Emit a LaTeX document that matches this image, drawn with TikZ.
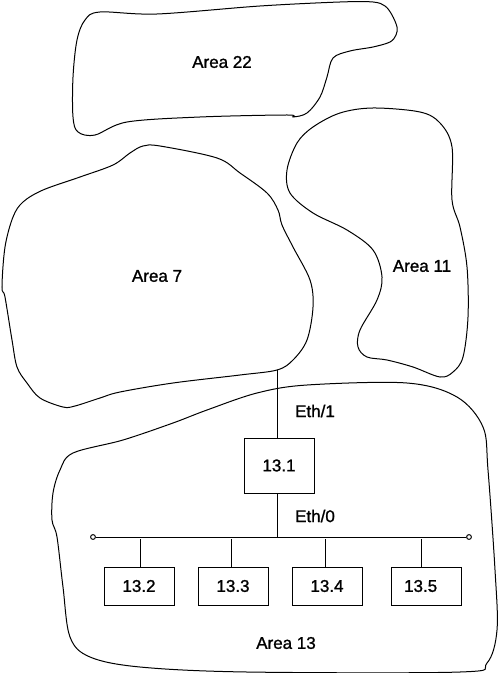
\documentclass[tikz,border=0pt]{standalone}
\usepackage{fontspec}
\setmainfont{Liberation Sans}
\newfontfamily\diagfont[FakeBold=1.2]{Liberation Sans}
\begin{document}
\begin{tikzpicture}[x=0.75pt,y=-0.75pt,line width=0.75pt,
  blob/.style={draw=black, line width=0.75pt},
  lbl/.style={font=\fontsize{12.75}{15}\diagfont, inner sep=0pt},
  bigbox/.style={draw, line width=0.75pt, minimum width=52.5pt, minimum height=41.25pt, inner sep=0pt, font=\fontsize{12.75}{15}\diagfont},
  smallbox/.style={draw, line width=0.75pt, minimum width=52.5pt, minimum height=28.5pt, inner sep=0pt, font=\fontsize{12.75}{15}\diagfont},
  term/.style={circle, draw, line width=0.75pt, inner sep=0pt, minimum size=3.6pt},
  wire/.style={draw, line width=0.75pt}]
\useasboundingbox (0,0) rectangle (500,673);
% Area 22
\draw[blob] plot[smooth cycle, tension=0.55] coordinates {(85,20) (100,12) (157,14) (260,6) (340,2) (373,2) (385,6) (392,15) (397,27) (396,35) (390,42) (373,47) (350,51) (333,58) (327,77) (320,97) (307,113) (293,117) (287,115) (200,117) (127,122) (95,135) (78,132) (73,117) (73,77) (77,40)};
% Area 7
\draw[blob] plot[smooth cycle, tension=0.55] coordinates {(113,165) (130,153) (143,146) (160,146) (217,158) (240,173) (267,193) (278,210) (282,225) (293,247) (310,280) (313,307) (307,340) (293,360) (277,370) (240,375) (173,383) (120,392) (100,398) (75,406) (63,407) (40,398) (27,383) (17,367) (12,340) (5,297) (2,287) (5,247) (13,217) (23,202) (43,190) (80,177)};
% Area 11
\draw[blob] plot[smooth cycle, tension=0.55] coordinates {(373,108) (420,112) (440,123) (452,147) (452,200) (460,227) (467,267) (468,317) (463,357) (453,372) (440,377) (413,367) (387,360) (367,357) (358,347) (360,330) (377,300) (382,277) (373,250) (347,230) (313,213) (290,193) (287,170) (297,143) (313,127) (340,113)};
% Area 13
\draw[blob] plot[smooth cycle, tension=0.55] coordinates {(307,385) (407,383) (457,397) (483,427) (488,470) (495,570) (497,630) (487,663) (460,672) (247,672) (140,667) (90,657) (70,637) (63,587) (57,537) (52,520) (53,493) (60,470) (73,453) (123,440) (173,423) (207,410) (257,393)};
% labels
\node[lbl] (a22) at (222,62) {Area 22};
\node[lbl] (a7) at (157,276) {Area 7};
\node[lbl] (a11) at (422,266) {Area 11};
\node[lbl] (a13) at (286,643) {Area 13};
\node[lbl] (eth1) at (315,411) {Eth/1};
\node[lbl] (eth0) at (315,516) {Eth/0};
% router and hosts
\node[bigbox] (r1) at (279,465.5) {13.1};
\node[smallbox] (h2) at (139,586) {13.2};
\node[smallbox] (h3) at (233,586) {13.3};
\node[smallbox] (h4) at (327,586) {13.4};
\node[smallbox] (h5) at (426,586) {\hspace*{-8pt}13.5};
% wiring
\coordinate (up) at (277,370);
\coordinate (bus) at (277,537);
\node[term] (busL) at (93,537) {};
\node[term] (busR) at (469,537) {};
\draw[wire] (up) -- (up |- r1.north);
\draw[wire] (bus |- r1.south) -- (bus);
\draw[wire] (busL) -- (busR);
\coordinate (d2) at (140,539);
\coordinate (d3) at (231,539);
\coordinate (d4) at (325,539);
\coordinate (d5) at (421,539);
\draw[wire] (d2) -- (d2 |- h2.north);
\draw[wire] (d3) -- (d3 |- h3.north);
\draw[wire] (d4) -- (d4 |- h4.north);
\draw[wire] (d5) -- (d5 |- h5.north);
\end{tikzpicture}
\end{document}
